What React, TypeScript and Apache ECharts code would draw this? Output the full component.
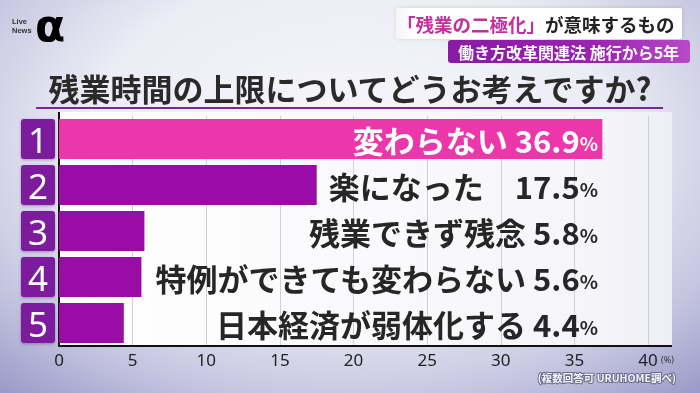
import React, { useEffect, useRef } from "react";
import * as echarts from "echarts";

const ranks = ["1", "2", "3", "4", "5"];
const categories = ["変わらない", "楽になった", "残業できず残念", "特例ができても変わらない", "日本経済が弱体化する"];
const values = [36.9, 17.5, 5.8, 5.6, 4.4];
const xMin = 0;
const xMax = 40;
const xInterval = 5;
const title = "残業時間の上限についてどうお考えですか?";
const headlineA = "「残業の二極化」";
const headlineB = "が意味するもの";
const subHeadline = "働き方改革関連法 施行から5年";
const footnote = "(複数回答可 URUHOME調べ)";
const unit = "(%)";

const JP = '"Noto Sans CJK JP", "Noto Sans", sans-serif';
const PINK = "#ec37aa";
const PURPLE = "#9a0ca6";
const BADGE = "#7c1a9c";

export default function App() {
  const ref = useRef<HTMLDivElement>(null);
  useEffect(() => {
    if (!ref.current) return;
    const chart = echarts.init(ref.current, null, { renderer: "svg" });
    chart.setOption({
      animation: false,
      grid: { left: 59, right: 52, top: 116, bottom: 47 },
      xAxis: {
        type: "value",
        min: xMin,
        max: xMax,
        interval: xInterval,
        axisLine: { show: true, lineStyle: { color: "#111", width: 2 } },
        axisTick: { show: false },
        splitLine: { show: true, lineStyle: { color: "#cfcfd8", width: 1 } },
        axisLabel: { fontSize: 17, color: "#222", margin: 5, fontFamily: '"Noto Sans", sans-serif' },
      },
      yAxis: [
        {
          type: "category",
          data: ranks,
          inverse: true,
          axisLine: { show: true, lineStyle: { color: "#111", width: 2 } },
          axisTick: { show: false },
          axisLabel: {
            margin: 4,
            formatter: (v: string) => `{b|${v}}`,
            rich: {
              b: {
                width: 34,
                height: 40,
                lineHeight: 42,
                align: "center",
                backgroundColor: BADGE,
                borderRadius: 3,
                color: "#fff",
                fontSize: 35,
                fontFamily: '"Noto Sans", sans-serif',
                shadowColor: "rgba(60,0,80,0.35)",
                shadowBlur: 3,
                shadowOffsetY: 1,
              },
            },
          },
        },
        {
          type: "category",
          data: categories,
          inverse: true,
          position: "right",
          offset: -50,
          z: 10,
          axisLine: { show: false },
          axisTick: { show: false },
          splitLine: { show: false },
          axisLabel: {
            inside: true,
            margin: 0,
            formatter: (v: string, i: number) => {
              const w = i === 0 ? "w" : "";
              const gap = i === 1 ? "　" : " ";
              return `{t${w}|${v}${gap}}{n${w}|${values[i]}}{p${w}|%}`;
            },
            rich: {
              t: { fontSize: 31, fontWeight: "bold", color: "#262626", fontFamily: JP },
              n: { fontSize: 31, fontWeight: "bold", color: "#262626", fontFamily: JP },
              p: { fontSize: 19, fontWeight: "bold", color: "#262626", fontFamily: JP, padding: [7, 0, 0, 0] },
              tw: { fontSize: 31, fontWeight: "bold", color: "#fff", fontFamily: JP },
              nw: { fontSize: 31, fontWeight: "bold", color: "#fff", fontFamily: JP },
              pw: { fontSize: 19, fontWeight: "bold", color: "#fff", fontFamily: JP, padding: [7, 0, 0, 0] },
            },
          },
        },
      ],
      series: [
        {
          type: "bar",
          yAxisIndex: 0,
          barWidth: 40,
          data: values.map((v, i) => ({ value: v, itemStyle: { color: i === 0 ? PINK : PURPLE } })),
        },
      ],
      graphic: [
        {
          type: "rect",
          z: -5,
          shape: { x: 59, y: 112, width: 613, height: 234 },
          style: {
            fill: new echarts.graphic.LinearGradient(0, 0, 1, 0, [
              { offset: 0, color: "#ffffff" },
              { offset: 0.85, color: "#f6f6fa" },
              { offset: 1, color: "#eeeef6" },
            ]),
          },
        },
        {
          type: "line",
          z: 5,
          shape: { x1: 59, y1: 112, x2: 59, y2: 117 },
          style: { stroke: "#111", lineWidth: 2 },
        },
        {
          type: "line",
          z: 5,
          shape: { x1: 647, y1: 346, x2: 672, y2: 346 },
          style: { stroke: "#111", lineWidth: 2 },
        },
        {
          type: "text",
          x: 350,
          y: 87,
          style: {
            text: title,
            align: "center",
            verticalAlign: "middle",
            fontSize: 31,
            fontWeight: "bold",
            fontFamily: JP,
            fill: "#2a2a2a",
          },
        },
        {
          type: "line",
          shape: { x1: 36, y1: 108, x2: 663, y2: 108 },
          style: { stroke: "#7a2a8e", lineWidth: 2 },
        },
        {
          type: "rect",
          shape: { x: 396, y: 8, width: 286, height: 31, r: 2 },
          style: {
            fill: new echarts.graphic.LinearGradient(0, 0, 1, 0, [
              { offset: 0, color: "rgba(255,255,255,0.6)" },
              { offset: 0.06, color: "#ffffff" },
              { offset: 1, color: "#ffffff" },
            ]),
            shadowColor: "rgba(0,0,0,0.15)",
            shadowBlur: 4,
          },
        },
        {
          type: "text",
          x: 397,
          y: 24,
          style: {
            text: `{a|${headlineA}}{b|${headlineB}}`,
            verticalAlign: "middle",
            rich: {
              a: { fontSize: 18.5, fontWeight: "bold", fontFamily: JP, fill: "#c22f9e", color: "#c22f9e" },
              b: { fontSize: 18.5, fontWeight: "bold", fontFamily: JP, fill: "#222", color: "#222" },
            },
          },
        },
        {
          type: "rect",
          shape: { x: 448, y: 40, width: 242, height: 23, r: 3 },
          style: {
            fill: new echarts.graphic.LinearGradient(0, 0, 1, 0, [
              { offset: 0, color: "#8a1aa6" },
              { offset: 0.6, color: "#9b22b0" },
              { offset: 1, color: "#b84ac8" },
            ]),
          },
        },
        {
          type: "text",
          x: 458,
          y: 52,
          style: {
            text: subHeadline,
            verticalAlign: "middle",
            fontSize: 16,
            fontWeight: "bold",
            fontFamily: JP,
            fill: "#ffffff",
          },
        },
        {
          type: "text",
          x: 35,
          y: 25,
          style: {
            text: "α",
            verticalAlign: "middle",
            fontSize: 44,
            fontWeight: "bold",
            fontFamily: '"DejaVu Sans", sans-serif',
            fill: new echarts.graphic.LinearGradient(0, 0, 1, 1, [
              { offset: 0, color: "#f060b4" },
              { offset: 1, color: "#8e34d4" },
            ]),
          },
        },
        {
          type: "text",
          x: 12,
          y: 17,
          style: {
            text: "Live\nNews",
            fontSize: 7.5,
            lineHeight: 9,
            fontWeight: "bold",
            fontFamily: '"Liberation Sans", sans-serif',
            fill: "#333",
          },
        },
        {
          type: "text",
          x: 661,
          y: 359,
          style: {
            text: unit,
            verticalAlign: "middle",
            fontSize: 9,
            fontFamily: '"Noto Sans", sans-serif',
            fill: "#333",
          },
        },
        {
          type: "text",
          x: 676,
          y: 377,
          style: {
            text: footnote,
            align: "right",
            verticalAlign: "middle",
            fontSize: 10.5,
            fontWeight: "bold",
            fontFamily: JP,
            fill: "#f6f6fc",
            stroke: "#6b6b88",
            lineWidth: 2,
          },
        },
      ],
    });
    return () => chart.dispose();
  }, []);
  return (
    <div
      ref={ref}
      style={{
        position: "fixed",
        left: 0,
        top: 0,
        width: 700,
        height: 393,
        background:
          "radial-gradient(ellipse 75% 85% at 50% 35%, #f6f6fb 0%, #ececf5 50%, #c4c4e0 80%, #9c9cc9 100%)",
      }}
    />
  );
}
